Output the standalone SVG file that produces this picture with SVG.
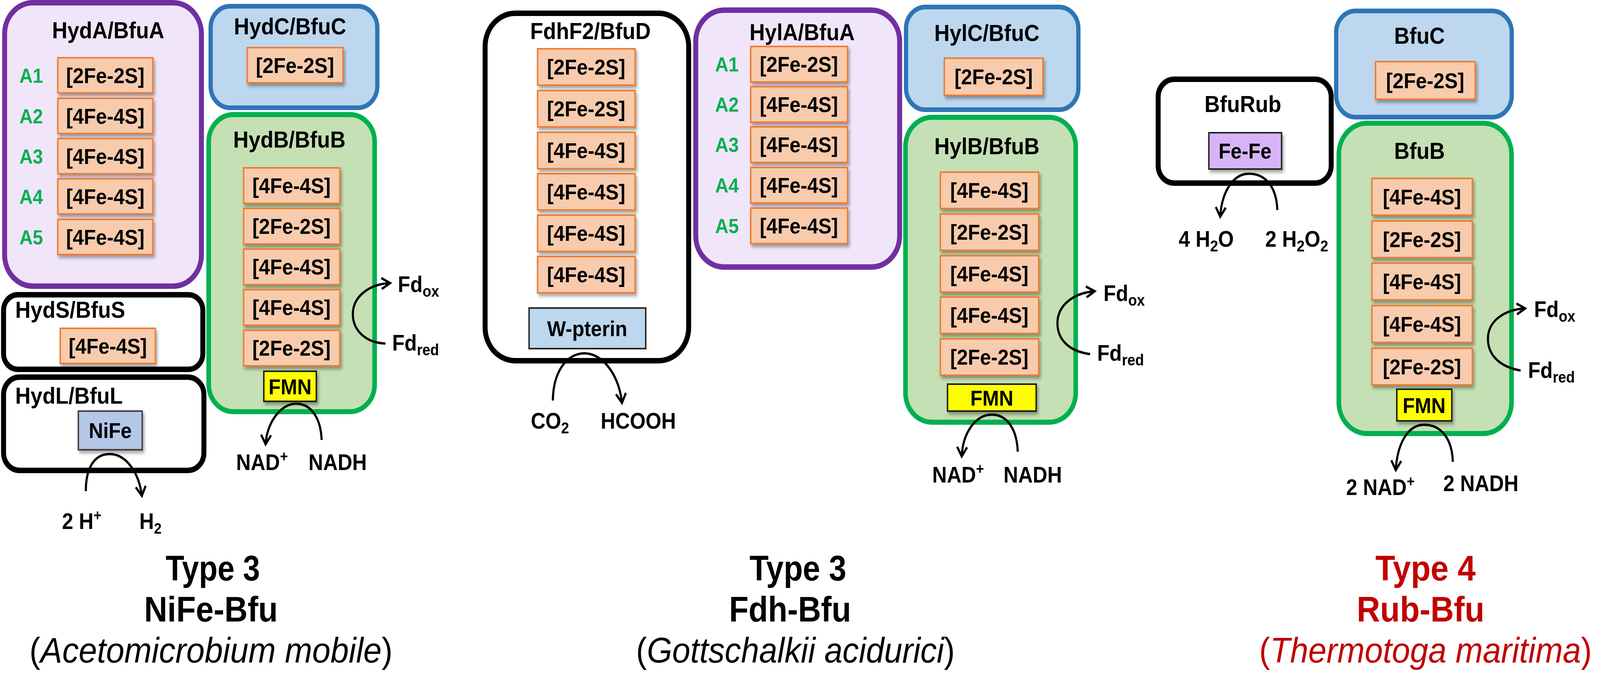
<svg xmlns="http://www.w3.org/2000/svg" width="4512" height="1729" viewBox="0 0 4512 1729" preserveAspectRatio="none" style="width:100vw;height:100vh;display:block">
<style>
text{font-family:"Liberation Sans",Arial,sans-serif;font-weight:bold;fill:#000}
.ttl{font-size:60px;text-anchor:middle}
.ttlL{font-size:60px}
.cl{font-size:56px;text-anchor:middle}
.lab{font-size:52px;text-anchor:middle;fill:#00B050}
.rx{font-size:57px}
.big{font-size:90px;text-anchor:middle}
.ital{font-size:90px;text-anchor:middle;font-weight:normal}
.red{fill:#C00000}
.box{stroke-width:4;fill:#F8CBAD;stroke:#ED7D31}
.purple{fill:#F1E5FA;stroke:#7030A0;stroke-width:14}
.blue{fill:#BDD7EE;stroke:#2E75B6;stroke-width:12}
.green{fill:#C5E0B4;stroke:#00B050;stroke-width:13}
.black{fill:#FFFFFF;stroke:#000;stroke-width:14}
.fmn{fill:#FFFF00;stroke:#1a1a1a;stroke-width:4}
.arc{fill:none;stroke:#000;stroke-width:6;marker-end:url(#ah)}
</style>
<defs>
<filter id="sh" x="-10%" y="-10%" width="130%" height="150%">
<feDropShadow dx="4" dy="7" stdDeviation="4" flood-color="#000" flood-opacity="0.35"/>
</filter>
<marker id="ah" markerUnits="userSpaceOnUse" markerWidth="40" markerHeight="40" viewBox="0 0 40 40" refX="33" refY="20" orient="auto">
<path d="M9,6 L33,20 L9,34" fill="none" stroke="#000" stroke-width="6" stroke-linejoin="miter"/>
</marker>
</defs>
<rect width="4512" height="1729" fill="#FFFFFF"/>

<!-- ===== Panel 1 ===== -->
<g id="hydA">
<rect class="purple" x="13" y="7" width="555" height="726" rx="80"/>
<text class="ttl" x="305" y="98">HydA/BfuA</text>
<g filter="url(#sh)">
<rect class="box" x="163" y="148" width="268" height="90"/>
<rect class="box" x="163" y="252" width="268" height="90"/>
<rect class="box" x="163" y="355" width="268" height="90"/>
<rect class="box" x="163" y="458" width="268" height="90"/>
<rect class="box" x="163" y="562" width="268" height="90"/>
</g>
<text class="cl" x="297" y="213">[2Fe-2S]</text>
<text class="cl" x="297" y="317">[4Fe-4S]</text>
<text class="cl" x="297" y="420">[4Fe-4S]</text>
<text class="cl" x="297" y="523">[4Fe-4S]</text>
<text class="cl" x="297" y="627">[4Fe-4S]</text>
<text class="lab" x="88" y="212">A1</text>
<text class="lab" x="88" y="316">A2</text>
<text class="lab" x="88" y="419">A3</text>
<text class="lab" x="88" y="522">A4</text>
<text class="lab" x="88" y="626">A5</text>
</g>
<g id="hydC">
<rect class="blue" x="594" y="16" width="470" height="260" rx="55"/>
<text class="ttl" x="818" y="88">HydC/BfuC</text>
<rect class="box" x="697" y="122" width="270" height="90" filter="url(#sh)"/>
<text class="cl" x="832" y="187">[2Fe-2S]</text>
</g>
<g id="hydB">
<rect class="green" x="588.5" y="293.5" width="468" height="761" rx="70"/>
<text class="ttl" x="816" y="378">HydB/BfuB</text>
<g filter="url(#sh)">
<rect class="box" x="687" y="430" width="271" height="91"/>
<rect class="box" x="687" y="534" width="271" height="91"/>
<rect class="box" x="687" y="638" width="271" height="91"/>
<rect class="box" x="687" y="742" width="271" height="91"/>
<rect class="box" x="687" y="846" width="271" height="91"/>
<rect class="fmn" x="744" y="951" width="148" height="77"/>
</g>
<text class="cl" x="822" y="495">[4Fe-4S]</text>
<text class="cl" x="822" y="599">[2Fe-2S]</text>
<text class="cl" x="822" y="703">[4Fe-4S]</text>
<text class="cl" x="822" y="807">[4Fe-4S]</text>
<text class="cl" x="822" y="911">[2Fe-2S]</text>
<text class="cl" x="818" y="1010">FMN</text>
</g>
<g id="hydS">
<rect class="black" x="10" y="755" width="562" height="191" rx="40"/>
<text class="ttlL" x="43" y="814">HydS/BfuS</text>
<rect class="box" x="170" y="841" width="268" height="90" filter="url(#sh)"/>
<text class="cl" x="304" y="906">[4Fe-4S]</text>
</g>
<g id="hydL">
<rect class="black" x="10" y="966" width="565" height="239" rx="45"/>
<text class="ttlL" x="43" y="1034">HydL/BfuL</text>
<rect x="221" y="1053" width="180" height="99" fill="#B4C7E7" stroke="#404040" stroke-width="4" filter="url(#sh)"/>
<text class="cl" x="311" y="1122">NiFe</text>
</g>
<g id="labels1">
<text class="rx" x="1122" y="748">Fd<tspan font-size="40" dy="12">ox</tspan></text>
<text class="rx" x="1106" y="898">Fd<tspan font-size="40" dy="12">red</tspan></text>
<text class="rx" x="666" y="1204">NAD<tspan font-size="38" dy="-22">+</tspan></text>
<text class="rx" x="870" y="1204">NADH</text>
<text class="rx" x="175" y="1355">2 H<tspan font-size="38" dy="-22">+</tspan></text>
<text class="rx" x="393" y="1355">H<tspan font-size="38" dy="12">2</tspan></text>
</g>
<g id="title1">
<text class="big" x="600" y="1487" textLength="266" lengthAdjust="spacingAndGlyphs">Type 3</text>
<text class="big" x="595" y="1592" textLength="377" lengthAdjust="spacingAndGlyphs">NiFe-Bfu</text>
<text class="ital" x="595" y="1697" textLength="1024" lengthAdjust="spacingAndGlyphs">(<tspan font-style="italic">Acetomicrobium mobile</tspan>)</text>
</g>

<!-- ===== Panel 2 ===== -->
<g id="fdhF2">
<rect class="black" x="1368" y="34" width="574" height="890" rx="85" stroke-width="13"/>
<text class="ttl" x="1665" y="100">FdhF2/BfuD</text>
<g filter="url(#sh)">
<rect class="box" x="1516" y="125" width="275" height="93"/>
<rect class="box" x="1516" y="232" width="275" height="93"/>
<rect class="box" x="1516" y="339" width="275" height="93"/>
<rect class="box" x="1516" y="445" width="275" height="93"/>
<rect class="box" x="1516" y="551" width="275" height="93"/>
<rect class="box" x="1516" y="657" width="275" height="93"/>
</g>
<text class="cl" x="1653" y="191">[2Fe-2S]</text>
<text class="cl" x="1653" y="298">[2Fe-2S]</text>
<text class="cl" x="1653" y="405">[4Fe-4S]</text>
<text class="cl" x="1653" y="511">[4Fe-4S]</text>
<text class="cl" x="1653" y="617">[4Fe-4S]</text>
<text class="cl" x="1653" y="723">[4Fe-4S]</text>
<rect x="1492" y="789" width="329" height="104" fill="#BDD7EE" stroke="#222" stroke-width="4"/>
<text class="cl" x="1656" y="861">W-pterin</text>
</g>
<g id="hylA">
<rect class="purple" x="1962" y="26" width="575" height="658" rx="80"/>
<text class="ttl" x="2262" y="103">HylA/BfuA</text>
<g filter="url(#sh)">
<rect class="box" x="2117" y="119" width="273" height="91"/>
<rect class="box" x="2117" y="222" width="273" height="91"/>
<rect class="box" x="2117" y="325" width="273" height="91"/>
<rect class="box" x="2117" y="429" width="273" height="91"/>
<rect class="box" x="2117" y="533" width="273" height="91"/>
</g>
<text class="cl" x="2253" y="184">[2Fe-2S]</text>
<text class="cl" x="2253" y="287">[4Fe-4S]</text>
<text class="cl" x="2253" y="390">[4Fe-4S]</text>
<text class="cl" x="2253" y="494">[4Fe-4S]</text>
<text class="cl" x="2253" y="598">[4Fe-4S]</text>
<text class="lab" x="2050" y="183">A1</text>
<text class="lab" x="2050" y="286">A2</text>
<text class="lab" x="2050" y="389">A3</text>
<text class="lab" x="2050" y="493">A4</text>
<text class="lab" x="2050" y="597">A5</text>
</g>
<g id="hylC">
<rect class="blue" x="2555" y="18" width="486" height="263" rx="55"/>
<text class="ttl" x="2783" y="105">HylC/BfuC</text>
<rect class="box" x="2663" y="149" width="278" height="95" filter="url(#sh)"/>
<text class="cl" x="2802" y="216">[2Fe-2S]</text>
</g>
<g id="hylB">
<rect class="green" x="2553.5" y="300.5" width="480" height="781" rx="75"/>
<text class="ttl" x="2783" y="395">HylB/BfuB</text>
<g filter="url(#sh)">
<rect class="box" x="2652" y="441" width="277" height="93"/>
<rect class="box" x="2652" y="548" width="277" height="93"/>
<rect class="box" x="2652" y="655" width="277" height="93"/>
<rect class="box" x="2652" y="761" width="277" height="93"/>
<rect class="box" x="2652" y="868" width="277" height="93"/>
<rect class="fmn" x="2672" y="984" width="250" height="69"/>
</g>
<text class="cl" x="2790" y="507">[4Fe-4S]</text>
<text class="cl" x="2790" y="614">[2Fe-2S]</text>
<text class="cl" x="2790" y="721">[4Fe-4S]</text>
<text class="cl" x="2790" y="827">[4Fe-4S]</text>
<text class="cl" x="2790" y="934">[2Fe-2S]</text>
<text class="cl" x="2797" y="1039">FMN</text>
</g>
<g id="labels2">
<text class="rx" x="1497" y="1098">CO<tspan font-size="40" dy="12">2</tspan></text>
<text class="rx" x="1694" y="1098">HCOOH</text>
<text class="rx" x="3112" y="771">Fd<tspan font-size="40" dy="12">ox</tspan></text>
<text class="rx" x="3094" y="924">Fd<tspan font-size="40" dy="12">red</tspan></text>
<text class="rx" x="2629" y="1236">NAD<tspan font-size="38" dy="-22">+</tspan></text>
<text class="rx" x="2830" y="1236">NADH</text>
</g>
<g id="title2">
<text class="big" x="2250" y="1487" textLength="273" lengthAdjust="spacingAndGlyphs">Type 3</text>
<text class="big" x="2228" y="1592" textLength="344" lengthAdjust="spacingAndGlyphs">Fdh-Bfu</text>
<text class="ital" x="2243" y="1697" textLength="899" lengthAdjust="spacingAndGlyphs">(<tspan font-style="italic">Gottschalkii acidurici</tspan>)</text>
</g>

<!-- ===== Panel 3 ===== -->
<g id="bfuRub">
<rect class="black" x="3266" y="203" width="488" height="266" rx="45"/>
<text class="ttl" x="3505" y="287">BfuRub</text>
<rect x="3409" y="340" width="205" height="93" fill="#D7B4F8" stroke="#222" stroke-width="4" filter="url(#sh)"/>
<text class="cl" x="3511" y="406">Fe-Fe</text>
</g>
<g id="bfuC">
<rect class="blue" x="3768" y="28" width="495" height="272" rx="55"/>
<text class="ttl" x="4003" y="112">BfuC</text>
<rect class="box" x="3879" y="158" width="281" height="96" filter="url(#sh)"/>
<text class="cl" x="4019" y="226">[2Fe-2S]</text>
</g>
<g id="bfuB">
<rect class="green" x="3775.5" y="315.5" width="487" height="795" rx="80"/>
<text class="ttl" x="4003" y="407">BfuB</text>
<g filter="url(#sh)">
<rect class="box" x="3869" y="457" width="283" height="94"/>
<rect class="box" x="3869" y="566" width="283" height="94"/>
<rect class="box" x="3869" y="674" width="283" height="94"/>
<rect class="box" x="3869" y="783" width="283" height="94"/>
<rect class="box" x="3869" y="892" width="283" height="94"/>
<rect class="fmn" x="3939" y="997" width="155" height="81"/>
</g>
<text class="cl" x="4010" y="524">[4Fe-4S]</text>
<text class="cl" x="4010" y="633">[2Fe-2S]</text>
<text class="cl" x="4010" y="741">[4Fe-4S]</text>
<text class="cl" x="4010" y="850">[4Fe-4S]</text>
<text class="cl" x="4010" y="959">[2Fe-2S]</text>
<text class="cl" x="4016" y="1058">FMN</text>
</g>
<g id="labels3">
<text class="rx" x="3324" y="632">4 H<tspan font-size="40" dy="12">2</tspan><tspan dy="-12">O</tspan></text>
<text class="rx" x="3568" y="632">2 H<tspan font-size="40" dy="12">2</tspan><tspan dy="-12">O</tspan><tspan font-size="40" dy="12">2</tspan></text>
<text class="rx" x="4326" y="812">Fd<tspan font-size="40" dy="12">ox</tspan></text>
<text class="rx" x="4309" y="968">Fd<tspan font-size="40" dy="12">red</tspan></text>
<text class="rx" x="3796" y="1268">2 NAD<tspan font-size="38" dy="-22">+</tspan></text>
<text class="rx" x="4070" y="1258">2 NADH</text>
</g>
<g id="title3">
<text class="big red" x="4020" y="1487" textLength="283" lengthAdjust="spacingAndGlyphs">Type 4</text>
<text class="big red" x="4006" y="1592" textLength="360" lengthAdjust="spacingAndGlyphs">Rub-Bfu</text>
<text class="ital red" x="4020" y="1697" textLength="938" lengthAdjust="spacingAndGlyphs">(<tspan font-style="italic">Thermotoga maritima</tspan>)</text>
</g>

<!-- ===== Connectors ===== -->
<g id="connectors">
<path class="arc" d="M1087,880 C1030,878 995,845 995,805 C995,760 1040,728 1100,725"/>
<path class="arc" d="M907,1127 C905,1075 880,1034 835,1034 C790,1034 752,1085 749,1138"/>
<path class="arc" d="M242,1258 C242,1200 265,1163 309,1163 C355,1163 392,1210 400,1270"/>
<path class="arc" d="M1559,1026 C1560,950 1600,905 1648,905 C1700,905 1745,960 1754,1032"/>
<path class="arc" d="M3074,907 C3015,900 2982,870 2982,828 C2982,780 3030,750 3087,746"/>
<path class="arc" d="M2870,1157 C2868,1100 2840,1062 2797,1062 C2750,1062 2715,1110 2712,1169"/>
<path class="arc" d="M3602,538 C3600,480 3570,445 3522,445 C3475,445 3445,495 3441,555"/>
<path class="arc" d="M4288,949 C4230,940 4196,910 4196,868 C4196,820 4245,793 4301,790"/>
<path class="arc" d="M4097,1183 C4095,1125 4065,1088 4016,1088 C3968,1088 3940,1140 3936,1204"/>
</g>
</svg>
